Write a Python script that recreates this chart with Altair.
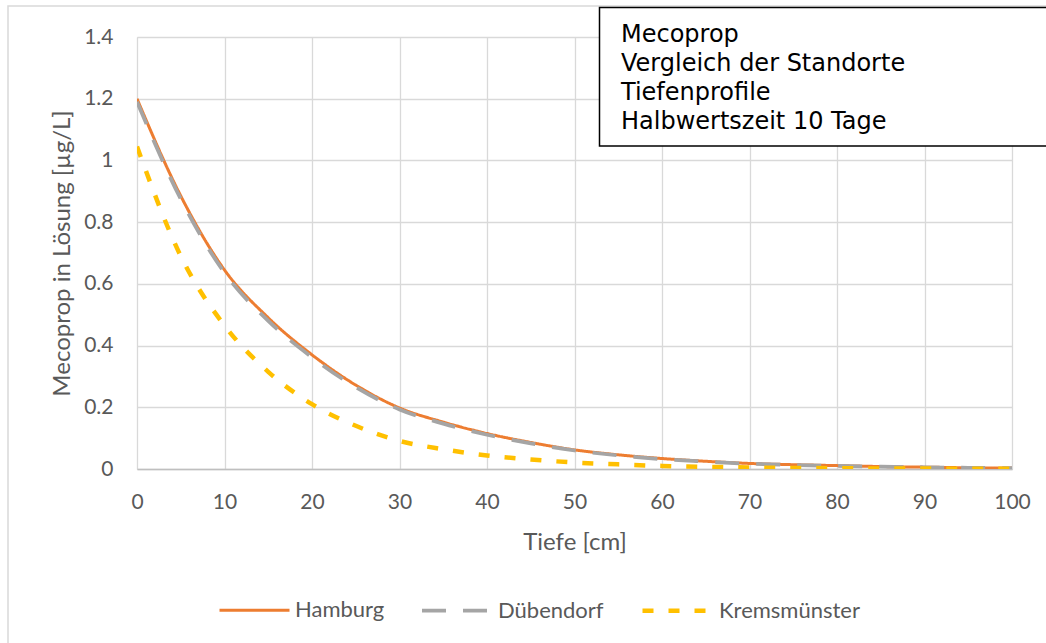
import altair as alt
import pandas as pd

depth = [0, 5, 10, 15, 20, 25, 30, 35, 40, 45, 50, 55, 60, 65, 70, 75, 80, 85, 90, 95, 100]
hamburg = [1.20, 0.885, 0.645, 0.49, 0.37, 0.272, 0.198, 0.152, 0.115, 0.086, 0.062,
           0.046, 0.034, 0.025, 0.018, 0.014, 0.011, 0.008, 0.006, 0.004, 0.003]
duebendorf = [1.19, 0.875, 0.636, 0.48, 0.362, 0.265, 0.193, 0.147, 0.111, 0.083, 0.06,
              0.044, 0.032, 0.024, 0.017, 0.013, 0.010, 0.0075, 0.0055, 0.004, 0.003]
krems = [1.045, 0.69, 0.465, 0.315, 0.21, 0.14, 0.091, 0.064, 0.044, 0.031, 0.021,
         0.015, 0.010, 0.007, 0.005, 0.0035, 0.0025, 0.0018, 0.0013, 0.001, 0.0007]
series = ["Hamburg", "Dübendorf", "Kremsmünster"]
colors = ["#ED7D31", "#A5A5A5", "#FFC000"]
dashes = [[1, 0], [24, 17], [11, 15]]
widths = [3, 4.5, 4]
box_lines = ["Mecoprop", "Vergleich der Standorte", "Tiefenprofile", "Halbwertszeit 10 Tage"]

rows = []
for name, vals in zip(series, [hamburg, duebendorf, krems]):
    for d, v in zip(depth, vals):
        rows.append({"Tiefe": d, "Wert": v, "Standort": name})
df = pd.DataFrame(rows)

FONT = "Lato"
GRAY = "#595959"

lines = alt.Chart(df).mark_line(strokeCap="butt", clip=True, interpolate="monotone").encode(
    x=alt.X("Tiefe:Q", scale=alt.Scale(domain=[0, 100], nice=False),
            axis=alt.Axis(title="Tiefe [cm]", values=list(range(0, 101, 10)),
                          grid=True, gridColor="#D9D9D9", gridWidth=1.3,
                          domain=True, domainColor="#BFBFBF", domainWidth=1.5,
                          ticks=False, tickSize=0, labelPadding=39,
                          labelBaseline="alphabetic", labelFlush=False,
                          labelFont=FONT, labelFontSize=21, labelColor=GRAY,
                          titleFont=FONT, titleFontSize=24, titleColor=GRAY,
                          titleFontWeight="normal", titleX=437.5, titleY=80,
                          titleBaseline="alphabetic")),
    y=alt.Y("Wert:Q", scale=alt.Scale(domain=[0, 1.4], nice=False),
            axis=alt.Axis(title="Mecoprop in Lösung [µg/L]",
                          values=[0, 0.2, 0.4, 0.6, 0.8, 1, 1.2, 1.4], format=".1~f",
                          grid=True, gridColor="#D9D9D9", gridWidth=1.3,
                          domain=False, ticks=False, tickSize=0, labelPadding=24,
                          labelFont=FONT, labelFontSize=21, labelColor=GRAY,
                          titleFont=FONT, titleFontSize=24, titleColor=GRAY,
                          titleFontWeight="normal", titleX=-75, titleY=216,
                          titleAngle=-90, titleBaseline="middle", titleAlign="center")),
    color=alt.Color("Standort:N", sort=series,
                    scale=alt.Scale(domain=series, range=colors),
                    legend=alt.Legend(title=None, orient="none", direction="horizontal",
                                      legendX=81, legendY=536,
                                      symbolType="stroke", symbolSize=4900,
                                      symbolStrokeWidth=4, labelOffset=4,
                                      columnPadding=29,
                                      labelFont=FONT, labelFontSize=22, labelColor=GRAY)),
    strokeDash=alt.StrokeDash("Standort:N", sort=series,
                              scale=alt.Scale(domain=series, range=dashes)),
    strokeWidth=alt.StrokeWidth("Standort:N", sort=series,
                                scale=alt.Scale(domain=series, range=widths)),
    order=alt.Order("Tiefe:Q"),
)

anno = alt.Data(values=[{}])

border = alt.Chart(anno).mark_rect(fill=None, stroke="#D9D9D9", strokeWidth=1.5).encode(
    x=alt.value(-129), x2=alt.value(960), y=alt.value(-31), y2=alt.value(650))

box = alt.Chart(anno).mark_rect(fill="white", stroke="black", strokeWidth=1.5).encode(
    x=alt.value(462.5), x2=alt.value(930), y=alt.value(-29.5), y2=alt.value(109))

box_text = alt.Chart(anno).mark_text(
    text=box_lines, align="left", baseline="alphabetic", lineHeight=29,
    font="DejaVu Sans", fontSize=24, color="black").encode(
    x=alt.value(484), y=alt.value(5))

chart = alt.layer(border, lines, box, box_text).properties(
    width=875, height=432,
    autosize=alt.AutoSizeParams(type="none"),
    padding={"left": 137, "top": 37, "right": 34, "bottom": 174},
).configure_view(stroke=None).configure(background="white")

chart.save("out.html", embed_options={"renderer": "svg", "actions": False})
